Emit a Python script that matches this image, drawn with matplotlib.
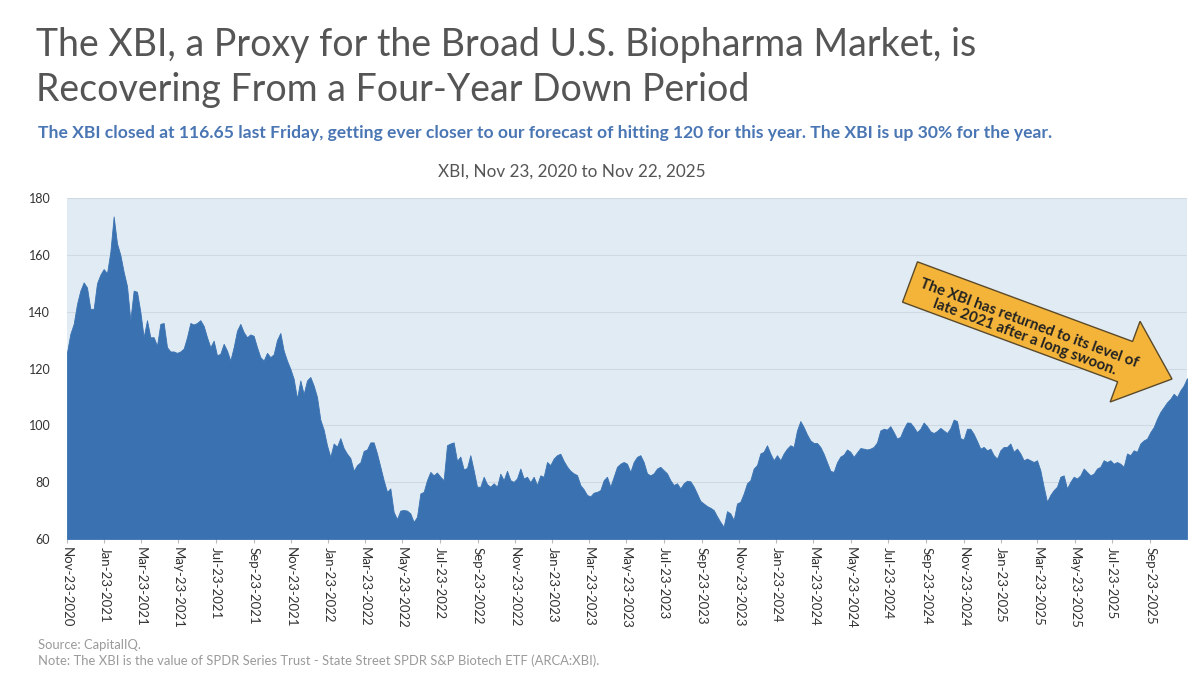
import numpy as np
import pandas as pd
import matplotlib
matplotlib.use("Agg")
import matplotlib.pyplot as plt
from matplotlib.patches import FancyArrow

# XBI closes, evenly spaced from Nov 23 2020 to Nov 22 2025
xbi_2020_21 = [125.7, 132.2, 135.7, 142.7, 147.4, 150.3, 148.5, 141, 141, 150,
               153, 155, 153.5, 161, 173.5, 164, 160, 154, 149, 137,
               147.4, 147, 140, 131, 137, 131, 131, 128, 135.7, 136,
               127.5, 126, 126, 125.5, 126, 127, 131, 136, 135.5, 136,
               137, 135, 131, 127.5, 129.8, 124.6, 125.2, 128.7, 126.3, 122.8,
               127.5, 133.3, 135.7]
xbi_2021_22 = [132.8, 131, 132, 131.5, 127.5, 124, 122.8, 125.5, 124, 125,
               130, 132.5, 126.3, 122.8, 119.9, 116.4, 109.4, 115.8, 111, 115.8,
               117, 114, 110, 102, 98.5, 93, 88.9, 93.6, 92.5, 95.5,
               92, 90, 88.5, 84, 86, 87, 91, 91.5, 94, 94,
               90.1, 85.4, 80.7, 76.6, 77.8, 69.5, 67, 70, 70.2, 70]
xbi_2022_23 = [69, 66, 67.8, 76, 76.6, 80.7, 83.6, 82.4, 83.4, 81.9,
               80.7, 93, 93.6, 94, 87.5, 89, 84.5, 85, 89.5, 84.2,
               78.4, 78.4, 81.9, 79.3, 78.4, 79.6, 78.4, 83, 80.7, 84,
               80.7, 80.1, 81.3, 84.8, 81.3, 81.9, 80, 81.9, 79, 82.4,
               81.9, 87.1, 86, 88.3, 89.5, 90, 87.5, 85.5, 84, 83.1,
               82.5, 79, 77.5, 75.5, 75, 76.3, 76.6]
xbi_2023_24 = [77.2, 80.7, 81.9, 78.4, 81.9, 85.4, 86.5, 87.1, 86.5, 83.6,
               87.1, 88.9, 89.5, 87.1, 83.1, 82.4, 83.1, 84.8, 85.4, 84.2,
               83.1, 80.7, 79, 79.6, 77.8, 79.6, 80.5, 80.3, 78.5, 76,
               73.4, 72.5, 71.6, 71, 70.2, 68, 66, 64.3, 69.8, 69,
               66.7, 72.5, 73.1, 76, 79.6, 80.7, 84.8, 86, 90.1, 90.7,
               93, 90.1, 87.7, 89.5, 87.7, 90.1, 91.8]
xbi_2024_25 = [93, 92.4, 98.2, 101.5, 99.4, 96.8, 94.7, 93.8, 93.8, 92.4,
               90, 87, 84, 83.6, 87, 89, 89.7, 91.5, 90.7, 88.9,
               90.5, 92, 91.8, 91.5, 91.8, 92.4, 94, 98.2, 98.8, 98.5,
               99.7, 97.6, 95.3, 96, 98.8, 101, 100.9, 99.4, 97.6, 98.8,
               101, 99.7, 97.9, 97.3, 98, 99.1, 98.2, 97.3, 99, 102,
               101.5, 95.5, 95, 98.8, 98.8, 97, 94.5]
xbi_2025 = [91.8, 92.4, 91.2, 91.8, 89.5, 88.3, 91.2, 92.4, 92.4, 93.6,
            90.7, 91.8, 90.1, 87.7, 88.3, 87.7, 87.1, 87.7, 84.2, 78.4,
            73.1, 75.5, 77.2, 78.4, 81.9, 82.4, 77.8, 80.1, 81.9, 81.3,
            82.4, 84.8, 83.6, 82.4, 83, 84.8, 85.4, 87.7, 87.1, 87.7,
            86.5, 87.1, 86.5, 85.4, 90.1, 89.5, 91.2, 90.7, 93.6, 94.7,
            95.3, 97.6, 99.4, 102.3, 104.7, 106.4, 108.1, 109.3, 111.1, 110,
            112.3, 114, 116.6]

xbi = xbi_2020_21 + xbi_2021_22 + xbi_2022_23 + xbi_2023_24 + xbi_2024_25 + xbi_2025
dates = pd.date_range("2020-11-23", "2025-11-22", periods=len(xbi))

tick_dates = pd.date_range("2020-11-01", "2025-09-30", freq="2MS") + pd.Timedelta(days=22)
tick_labels = [d.strftime("%b-%d-%Y") for d in tick_dates]

title = "The XBI, a Proxy for the Broad U.S. Biopharma Market, is\nRecovering From a Four-Year Down Period"
subtitle = ("The XBI closed at 116.65 last Friday, getting ever closer to our forecast of hitting 120 "
            "for this year. The XBI is up 30% for the year.")
chart_title = "XBI, Nov 23, 2020 to Nov 22, 2025"
note = "The XBI has returned to its level of\nlate 2021 after a long swoon."
source = "Source: CapitalIQ.\nNote: The XBI is the value of SPDR Series Trust - State Street SPDR S&P Biotech ETF (ARCA:XBI)."

fill_col = "#3a72b1"
bg_col = "#e1ebf4"

fig = plt.figure(figsize=(11.99, 6.88), dpi=100)
ax = fig.add_axes([67 / 1199, 1 - 539 / 688, 1120 / 1199, 341 / 688])
ax.set_facecolor(bg_col)

ax.fill_between(dates, 60, xbi, color=fill_col, lw=0.6, edgecolor=fill_col, zorder=2)
ax.set_ylim(60, 180)
ax.set_xlim(dates[0], dates[-1])
ax.set_yticks(np.arange(60, 181, 20))
ax.yaxis.grid(True, color="#cfd9e3", lw=0.8, zorder=1)
ax.set_axisbelow(True)

ax.set_xticks(tick_dates)
ax.set_xticklabels(tick_labels, rotation=-90, fontsize=9.5, color="#333333", family="Lato")
ax.tick_params(axis="x", length=3, color="#bbbbbb", pad=3)
ax.tick_params(axis="y", length=0, pad=12, labelsize=9, labelcolor="#333333")
for lab in ax.get_yticklabels():
    lab.set_family("Lato")
for s in ax.spines.values():
    s.set_visible(False)

fig.text(36 / 1199, 1 - 27 / 688, title, fontsize=27, color="#555555", family="Lato",
         va="top", ha="left", linespacing=1.3)
fig.text(38 / 1199, 1 - 133 / 688, subtitle, fontsize=12.6, color="#4a76b4", family="Lato",
         weight="bold", va="center", ha="left")
fig.text(572 / 1199, 1 - 172 / 688, chart_title, fontsize=12.3, color="#555555", family="Lato",
         va="center", ha="center")
fig.text(38 / 1199, 1 - 653 / 688, source, fontsize=9.4, color="#9a9a9a", family="Lato",
         va="center", ha="left", linespacing=1.3)

# callout arrow, drawn in inches so its shape is not distorted by the axes scale
arrow = FancyArrow(9.10, 4.06, 2.62, -0.97, width=0.43, head_width=0.86, head_length=0.50,
                   length_includes_head=True, fc="#f4b43a", ec="#5a4a2a", lw=1.0,
                   transform=fig.dpi_scale_trans, zorder=5)
fig.add_artist(arrow)
fig.text(10.27 / 11.99, 3.58 / 6.88, note, fontsize=10.8, weight="bold", color="#222222",
         family="Lato", rotation=-20.3, rotation_mode="anchor", ha="center", va="center",
         multialignment="center", linespacing=1.05, zorder=6)

fig.savefig("out.png", dpi=100, facecolor="white")
